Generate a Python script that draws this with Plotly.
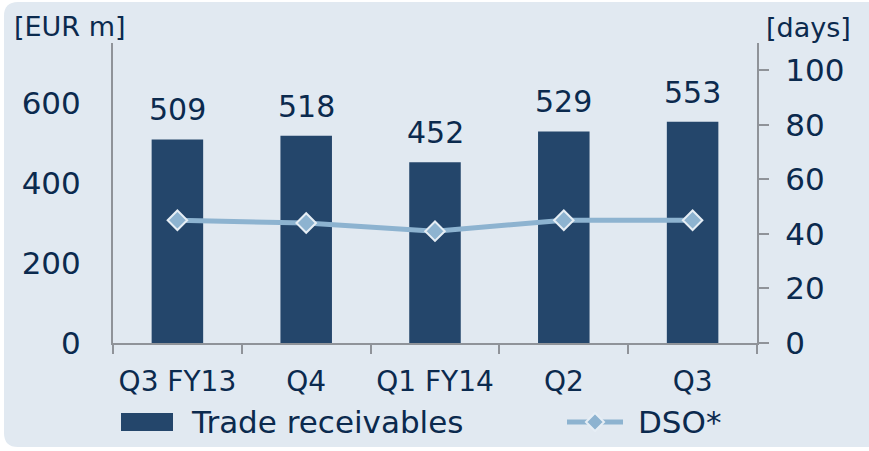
import plotly.graph_objects as go

categories = ["Q3 FY13", "Q4", "Q1 FY14", "Q2", "Q3"]
receivables = [509, 518, 452, 529, 553]
dso = [45, 44, 41, 45, 45]
left_ticks = [0, 200, 400, 600]
right_ticks = [0, 20, 40, 60, 80, 100]
series_names = ["Trade receivables", "DSO*"]

TEXT = "#0B2A4E"
BAR = "#24466B"
LINE = "#8DB3D0"
BG = "#E1E9F1"
AXIS = "#8F9399"
FONT = "DejaVu Sans"

W, H = 869, 451
ml, mr, mt, mb = 113, 112, 43, 108
pw, ph = W - ml - mr, H - mt - mb

fig = go.Figure()
fig.add_trace(go.Bar(
    x=categories, y=receivables, name=series_names[0],
    marker=dict(color=BAR, line=dict(width=0)), width=0.4,
))
fig.add_trace(go.Scatter(
    x=categories, y=dso, name=series_names[1], yaxis="y2", mode="lines+markers",
    line=dict(color=LINE, width=5),
    marker=dict(symbol="diamond", size=15, color=LINE, line=dict(color="#E6EEF5", width=2)),
))

for c, v in zip(categories, receivables):
    fig.add_annotation(x=c, y=v, text=str(v), showarrow=False, yanchor="bottom",
                       yshift=10, font=dict(size=30, color=TEXT, family=FONT))

def px_x(px):
    return (px - ml) / pw

def px_y(py):
    return (H - mb - py) / ph

# rounded background panel
x0, x1, y0, y1, r = 4, 880, 2, 447, 14
path = (f"M {px_x(x0+r)},{px_y(y0)} L {px_x(x1)},{px_y(y0)} L {px_x(x1)},{px_y(y1)} "
        f"L {px_x(x0+r)},{px_y(y1)} Q {px_x(x0)},{px_y(y1)} {px_x(x0)},{px_y(y1-r)} "
        f"L {px_x(x0)},{px_y(y0+r)} Q {px_x(x0)},{px_y(y0)} {px_x(x0+r)},{px_y(y0)} Z")
fig.add_shape(type="path", path=path, xref="paper", yref="paper",
              fillcolor=BG, line=dict(width=0), layer="below")

fig.add_annotation(x=px_x(12), y=px_y(26), xref="paper", yref="paper", text="[EUR m]",
                   showarrow=False, xanchor="left", yanchor="middle",
                   font=dict(size=27, color=TEXT, family=FONT))
fig.add_annotation(x=px_x(853), y=px_y(28), xref="paper", yref="paper", text="[days]",
                   showarrow=False, xanchor="right", yanchor="middle",
                   font=dict(size=27, color=TEXT, family=FONT))

# manual legend
ly = 422
fig.add_shape(type="rect", xref="paper", yref="paper",
              x0=px_x(121), x1=px_x(173), y0=px_y(431), y1=px_y(413),
              fillcolor=BAR, line=dict(width=0))
fig.add_annotation(x=px_x(189), y=px_y(ly), xref="paper", yref="paper", text=series_names[0],
                   showarrow=False, xanchor="left", yanchor="middle",
                   font=dict(size=31, color=TEXT, family=FONT))
fig.add_shape(type="line", xref="paper", yref="paper",
              x0=px_x(567), x1=px_x(623), y0=px_y(ly), y1=px_y(ly),
              line=dict(color=LINE, width=5))
cx, d = 595, 9
fig.add_shape(type="path", xref="paper", yref="paper",
              path=(f"M {px_x(cx-d)},{px_y(ly)} L {px_x(cx)},{px_y(ly-d)} "
                    f"L {px_x(cx+d)},{px_y(ly)} L {px_x(cx)},{px_y(ly+d)} Z"),
              fillcolor=LINE, line=dict(color="#E6EEF5", width=2))
fig.add_annotation(x=px_x(636), y=px_y(ly), xref="paper", yref="paper", text=series_names[1],
                   showarrow=False, xanchor="left", yanchor="middle",
                   font=dict(size=31, color=TEXT, family=FONT))

fig.update_layout(
    width=W, height=H,
    margin=dict(l=ml, r=mr, t=mt, b=mb, autoexpand=False),
    paper_bgcolor="white", plot_bgcolor="rgba(0,0,0,0)",
    font=dict(family=FONT, color=TEXT),
    showlegend=False,
    xaxis=dict(showline=True, linecolor=AXIS, linewidth=2, ticks="outside", tickson="boundaries",
               ticklen=9, tickcolor=AXIS, tickwidth=2, tickfont=dict(size=28, color=TEXT),
               ticklabelstandoff=12, showgrid=False, zeroline=False, automargin=False),
    yaxis=dict(range=[0, 750], tickvals=left_ticks, showline=True, linecolor=AXIS, linewidth=2,
               ticks="", tickfont=dict(size=31, color=TEXT), ticklabelstandoff=24,
               showgrid=False, zeroline=False, automargin=False),
    yaxis2=dict(range=[0, 110], tickvals=right_ticks, overlaying="y", side="right",
                showline=True, linecolor=AXIS, linewidth=2, ticks="outside", ticklen=10,
                tickcolor=AXIS, tickwidth=2, tickfont=dict(size=31, color=TEXT),
                ticklabelstandoff=10, showgrid=False, zeroline=False, automargin=False),
    bargap=0.6,
)

fig.write_html("out.html", config={"displayModeBar": False},
               post_script="document.body.style.margin='0';")
